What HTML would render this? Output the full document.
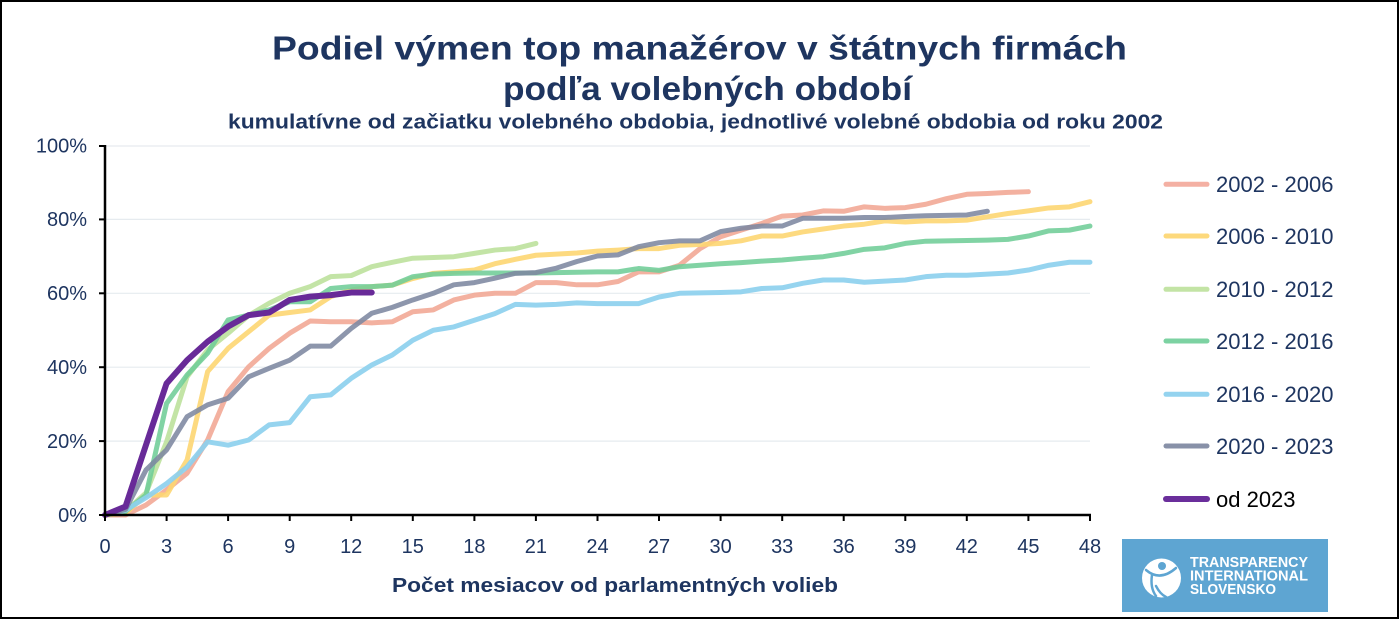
<!DOCTYPE html>
<html><head><meta charset="utf-8"><style>
html,body{margin:0;padding:0;background:#fff;}
svg{display:block;}
text{font-family:"Liberation Sans",Arial,sans-serif;}
</style></head><body>
<svg width="1400" height="620" viewBox="0 0 1400 620" xmlns="http://www.w3.org/2000/svg">
<rect x="0" y="0" width="1400" height="620" fill="#fff"/>
<rect x="1" y="1" width="1397" height="617" fill="none" stroke="#000" stroke-width="2"/>

<!-- titles -->
<text x="272" y="59.5" font-size="33" font-weight="bold" fill="#1e3560" textLength="855" lengthAdjust="spacingAndGlyphs">Podiel výmen top manažérov v štátnych firmách</text>
<text x="503" y="100" font-size="33" font-weight="bold" fill="#1e3560" textLength="409" lengthAdjust="spacingAndGlyphs">podľa volebných období</text>
<text x="228" y="128.5" font-size="20.5" font-weight="bold" fill="#1e3560" textLength="935" lengthAdjust="spacingAndGlyphs">kumulatívne od začiatku volebného obdobia, jednotlivé  volebné obdobia od roku 2002</text>

<!-- gridlines -->
<g stroke="#e6ebef" stroke-width="1.2">
<line x1="106" y1="146" x2="1090" y2="146"/>
<line x1="106" y1="219.4" x2="1090" y2="219.4"/>
<line x1="106" y1="293.3" x2="1090" y2="293.3"/>
<line x1="106" y1="367.2" x2="1090" y2="367.2"/>
<line x1="106" y1="441.1" x2="1090" y2="441.1"/>
</g>

<!-- y labels -->
<g font-size="20" fill="#1e3560" text-anchor="end">
<text x="87" y="152.5">100%</text>
<text x="87" y="226">80%</text>
<text x="87" y="300">60%</text>
<text x="87" y="374">40%</text>
<text x="87" y="448">20%</text>
<text x="87" y="522">0%</text>
</g>

<!-- x labels -->
<g font-size="20" fill="#1e3560" text-anchor="middle">
<text x="105" y="553">0</text>
<text x="166.6" y="553">3</text>
<text x="228.1" y="553">6</text>
<text x="289.7" y="553">9</text>
<text x="351.2" y="553">12</text>
<text x="412.8" y="553">15</text>
<text x="474.4" y="553">18</text>
<text x="535.9" y="553">21</text>
<text x="597.5" y="553">24</text>
<text x="659" y="553">27</text>
<text x="720.6" y="553">30</text>
<text x="782.2" y="553">33</text>
<text x="843.7" y="553">36</text>
<text x="905.3" y="553">39</text>
<text x="966.8" y="553">42</text>
<text x="1028.4" y="553">45</text>
<text x="1090" y="553">48</text>
</g>
<text x="392" y="592" font-size="20" font-weight="bold" fill="#1e3560" textLength="446" lengthAdjust="spacingAndGlyphs">Počet mesiacov od parlamentných volieb</text>

<!-- series -->
<g transform="translate(105,515) scale(20.52,-3.695)" fill="none" stroke-linejoin="round" stroke-linecap="round">
<polyline vector-effect="non-scaling-stroke" stroke="#f2a896" stroke-opacity="0.9" stroke-width="5" points="0,0 1,0 2,2.7 3,6.8 4,11.3 5,20.3 6,33.4 7,40.1 8,45.1 9,49.2 10,52.5 11,52.3 12,52.3 13,52 14,52.3 15,55 16,55.5 17,58.2 18,59.5 19,60 20,60 21,62.9 22,62.9 23,62.3 24,62.3 25,63.2 26,65.8 27,65.8 28,67.6 29,72.1 30,75.3 31,77.1 32,78.9 33,80.9 34,81.2 35,82.3 36,82.2 37,83.4 38,83 39,83.2 40,84.1 41,85.6 42,86.8 43,87 44,87.3 45,87.5"/>
<polyline vector-effect="non-scaling-stroke" stroke="#fdd672" stroke-opacity="0.9" stroke-width="5" points="0,0 1,0.5 2,5.4 3,5.4 4,14.9 5,38.8 6,45.1 7,49.6 8,54.1 9,54.8 10,55.5 11,59.1 12,60.9 13,61.8 14,62.2 15,64 16,65.4 17,65.8 18,66.3 19,68 20,69.2 21,70.3 22,70.6 23,70.9 24,71.4 25,71.7 26,72.1 27,72.1 28,73 29,73.2 30,73.5 31,74.2 32,75.5 33,75.5 34,76.6 35,77.4 36,78.2 37,78.7 38,79.6 39,79.3 40,79.6 41,79.6 42,79.8 43,80.7 44,81.6 45,82.3 46,83.1 47,83.4 48,84.8"/>
<polyline vector-effect="non-scaling-stroke" stroke="#bde19c" stroke-opacity="0.9" stroke-width="5" points="0,0 1,1 2,6 3,19.8 4,37.4 5,44.7 6,49.2 7,54 8,57.3 9,60 10,61.8 11,64.5 12,64.8 13,67.2 14,68.4 15,69.5 16,69.7 17,69.9 18,70.8 19,71.7 20,72.1 21,73.5"/>
<polyline vector-effect="non-scaling-stroke" stroke="#6fcd97" stroke-opacity="0.88" stroke-width="5" points="0,0 1,1 2,5.4 3,30.2 4,37.9 5,43.8 6,52.8 7,54.1 8,55.5 9,57.7 10,57.7 11,61.3 12,61.8 13,61.8 14,62.2 15,64.5 16,65.2 17,65.4 18,65.5 19,65.5 20,65.5 21,65.5 22,65.6 23,65.7 24,65.8 25,65.8 26,66.7 27,66.2 28,67.2 29,67.6 30,68 31,68.3 32,68.7 33,69 34,69.5 35,69.9 36,70.8 37,71.9 38,72.3 39,73.5 40,74.1 41,74.2 42,74.3 43,74.4 44,74.6 45,75.5 46,76.9 47,77.1 48,78.2"/>
<polyline vector-effect="non-scaling-stroke" stroke="#8dd0ee" stroke-opacity="0.92" stroke-width="5" points="0,0 1,1.3 2,4.7 3,8.5 4,13 5,19.8 6,18.9 7,20.3 8,24.4 9,25 10,32 11,32.5 12,37 13,40.6 14,43.3 15,47.3 16,50 17,50.9 18,52.7 19,54.5 20,57 21,56.8 22,57 23,57.4 24,57.2 25,57.2 26,57.2 27,59 28,60 29,60.1 30,60.2 31,60.4 32,61.3 33,61.5 34,62.7 35,63.6 36,63.6 37,63 38,63.3 39,63.6 40,64.5 41,64.9 42,64.9 43,65.2 44,65.5 45,66.3 46,67.6 47,68.4 48,68.4"/>
<polyline vector-effect="non-scaling-stroke" stroke="#7d88a0" stroke-opacity="0.88" stroke-width="5" points="0,0 1,1.5 2,12.2 3,17.6 4,26.6 5,29.8 6,31.6 7,37.4 8,39.7 9,41.9 10,45.7 11,45.7 12,50.5 13,54.6 14,56.2 15,58.2 16,60 17,62.3 18,62.9 19,64.1 20,65.4 21,65.6 22,66.8 23,68.6 24,70.1 25,70.4 26,72.6 27,73.7 28,74.2 29,74.2 30,76.7 31,77.6 32,78.2 33,78.2 34,80.3 35,80.3 36,80.3 37,80.5 38,80.5 39,80.8 40,81 41,81.1 42,81.2 43,82.2"/>
<polyline vector-effect="non-scaling-stroke" stroke="#682a98" stroke-width="6" points="0,0 1,2.3 2,19 3,35.6 4,41.9 5,46.9 6,51 7,54.1 8,54.8 9,58.2 10,59.1 11,59.5 12,60.2 13,60.2"/>
</g>

<!-- axes -->
<g stroke="#000" stroke-width="2.5">
<line x1="105" y1="145" x2="105" y2="516"/>
<line x1="104" y1="515" x2="1091" y2="515"/>
</g>
<g stroke="#000" stroke-width="2">
<line x1="99" y1="146" x2="105" y2="146"/>
<line x1="99" y1="219.4" x2="105" y2="219.4"/>
<line x1="99" y1="293.3" x2="105" y2="293.3"/>
<line x1="99" y1="367.2" x2="105" y2="367.2"/>
<line x1="99" y1="441.1" x2="105" y2="441.1"/>
<line x1="99" y1="515" x2="105" y2="515"/>
<line x1="105" y1="515" x2="105" y2="521"/>
<line x1="166.6" y1="515" x2="166.6" y2="521"/>
<line x1="228.1" y1="515" x2="228.1" y2="521"/>
<line x1="289.7" y1="515" x2="289.7" y2="521"/>
<line x1="351.2" y1="515" x2="351.2" y2="521"/>
<line x1="412.8" y1="515" x2="412.8" y2="521"/>
<line x1="474.4" y1="515" x2="474.4" y2="521"/>
<line x1="535.9" y1="515" x2="535.9" y2="521"/>
<line x1="597.5" y1="515" x2="597.5" y2="521"/>
<line x1="659" y1="515" x2="659" y2="521"/>
<line x1="720.6" y1="515" x2="720.6" y2="521"/>
<line x1="782.2" y1="515" x2="782.2" y2="521"/>
<line x1="843.7" y1="515" x2="843.7" y2="521"/>
<line x1="905.3" y1="515" x2="905.3" y2="521"/>
<line x1="966.8" y1="515" x2="966.8" y2="521"/>
<line x1="1028.4" y1="515" x2="1028.4" y2="521"/>
<line x1="1090" y1="515" x2="1090" y2="521"/>
</g>

<!-- legend -->
<g stroke-width="5" stroke-linecap="round">
<line x1="1166" y1="184.3" x2="1207" y2="184.3" stroke="#f4b0a3"/>
<line x1="1166" y1="236" x2="1207" y2="236" stroke="#fdd97c"/>
<line x1="1166" y1="289.3" x2="1207" y2="289.3" stroke="#c3e4a5"/>
<line x1="1166" y1="341" x2="1207" y2="341" stroke="#7cd2a2"/>
<line x1="1166" y1="394.3" x2="1207" y2="394.3" stroke="#94d3ef"/>
<line x1="1166" y1="446" x2="1207" y2="446" stroke="#8891a8"/>
<line x1="1166" y1="499" x2="1207" y2="499" stroke="#6a2e9b" stroke-width="6"/>
</g>
<g font-size="22" fill="#1e3560">
<text x="1216" y="192">2002 - 2006</text>
<text x="1216" y="244">2006 - 2010</text>
<text x="1216" y="297">2010 - 2012</text>
<text x="1216" y="349">2012 - 2016</text>
<text x="1216" y="402">2016 - 2020</text>
<text x="1216" y="454">2020 - 2023</text>
<text x="1216" y="507" fill="#000">od 2023</text>
</g>

<!-- logo -->
<rect x="1122" y="539" width="206" height="73" fill="#5ea5d2"/>
<circle cx="1161.5" cy="578" r="19.5" fill="#fff"/>
<g fill="none" stroke="#5ea5d2" stroke-width="2.5" stroke-linecap="round">
<path d="M1146,570 Q1160,582 1176,568"/>
<path d="M1156,586 Q1160,594 1166,597"/>
<path d="M1152,575 Q1150,588 1156,596"/>
</g>
<circle cx="1162" cy="566" r="4" fill="#5ea5d2"/>
<g font-size="14.5" font-weight="bold" fill="#fff">
<text x="1190" y="567" textLength="118" lengthAdjust="spacingAndGlyphs">TRANSPARENCY</text>
<text x="1190" y="580.5" textLength="118" lengthAdjust="spacingAndGlyphs">INTERNATIONAL</text>
<text x="1190" y="594" textLength="86" lengthAdjust="spacingAndGlyphs">SLOVENSKO</text>
</g>
</svg>
</body></html>
